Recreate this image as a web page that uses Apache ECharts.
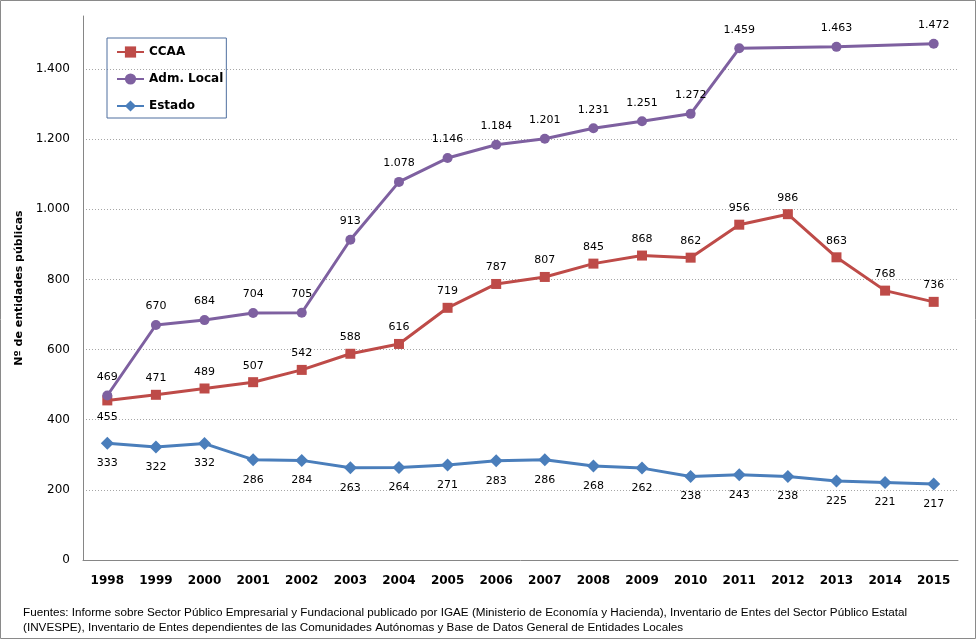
<!DOCTYPE html>
<html><head><meta charset="utf-8">
<script src="https://cdn.jsdelivr.net/npm/echarts@6/dist/echarts.min.js"></script>
<style>html,body{margin:0;padding:0;background:#fff}#c{width:976px;height:639px}</style>
</head><body><div id="c"></div>
<script>
const years = ['1998','1999','2000','2001','2002','2003','2004','2005','2006','2007','2008','2009','2010','2011','2012','2013','2014','2015'];
const ccaa = [455,471,489,507,542,588,616,719,787,807,845,868,862,956,986,863,768,736];
const admLocal = [469,670,684,704,705,913,1078,1146,1184,1201,1231,1251,1272,1459,null,1463,null,1472];
const estado = [333,322,332,286,284,263,264,271,283,286,268,262,238,243,238,225,221,217];
const yTicks = [200,400,600,800,1000,1200,1400];
const footnote = ['Fuentes: Informe sobre Sector Público Empresarial y Fundacional publicado por IGAE (Ministerio de Economía y Hacienda), Inventario de Entes del Sector Público Estatal',
'(INVESPE), Inventario de Entes dependientes de las Comunidades Autónomas y Base de Datos General de Entidades Locales'];

const fmt = v => { const n = typeof v === 'object' ? v.value : v; return String(n).replace(/\B(?=(\d{3})+(?!\d))/g, '.'); };
const F = 'DejaVu Sans';
const lblStyle = { show: true, fontFamily: F, fontSize: 11, color: '#000', formatter: p => fmt(p.value) };

const chart = echarts.init(document.getElementById('c'), null, { renderer: 'canvas' });
chart.setOption({
  animation: false,
  backgroundColor: '#fff',
  grid: { left: 83, right: 18, top: 16, bottom: 79, containLabel: false },
  legend: {
    orient: 'vertical', left: 107, top: 38, padding: [8, 3, 6, 9], itemGap: 15,
    itemWidth: 27, itemHeight: 14, borderColor: '#4f6f9f', borderWidth: 1,
    textStyle: { fontFamily: F, fontSize: 12, fontWeight: 'bold', color: '#000' },
    data: ['CCAA', 'Adm. Local', 'Estado']
  },
  xAxis: {
    type: 'category', data: years, boundaryGap: true,
    axisLine: { lineStyle: { color: '#868686', width: 1 } },
    axisTick: { show: false },
    axisLabel: { fontFamily: F, fontSize: 12, fontWeight: 'bold', color: '#000', margin: 15 }
  },
  yAxis: {
    type: 'value', min: 0, max: 1551, interval: 200,
    name: 'Nº de entidades públicas', nameLocation: 'middle', nameGap: 56,
    nameTextStyle: { fontFamily: F, fontSize: 11, fontWeight: 'bold', color: '#000' },
    axisLine: { show: true, lineStyle: { color: '#868686', width: 1 } },
    axisTick: { show: false },
    splitLine: { show: false },
    axisLabel: { fontFamily: F, fontSize: 12, color: '#000', margin: 13, showMaxLabel: false, formatter: v => fmt(v) }
  },
  graphic: [
    { type: 'rect', shape: { x: 0.5, y: 0.5, width: 975, height: 638 }, style: { fill: 'none', stroke: '#8a8a8a', lineWidth: 1 }, silent: true, z: 100 },
    { type: 'text', left: 23, top: 605, style: { text: footnote.join('\n'), font: '11.7px "Liberation Sans"', fill: '#000', lineHeight: 15 } }
  ],
  series: [
    {
      name: 'Estado', type: 'line', data: estado, z: 2,
      symbol: 'diamond', symbolSize: 13,
      lineStyle: { color: '#4a7ebb', width: 3 }, itemStyle: { color: '#4a7ebb' },
      label: Object.assign({}, lblStyle, { position: 'bottom', distance: 8 }),
      markLine: {
        silent: true, symbol: 'none', label: { show: false },
        lineStyle: { color: '#a6a6a6', width: 1, type: [1, 2] },
        data: yTicks.map(v => ({ yAxis: v })), z: 0
      }
    },
    {
      name: 'CCAA', type: 'line', z: 3,
      data: ccaa.map((v, i) => i === 0 ? { value: v, label: { position: 'bottom' } } : v),
      symbol: 'rect', symbolSize: 10,
      lineStyle: { color: '#be4b48', width: 3 }, itemStyle: { color: '#be4b48' },
      label: Object.assign({}, lblStyle, { position: 'top', distance: 6 })
    },
    {
      name: 'Adm. Local', type: 'line', z: 4, connectNulls: true,
      data: admLocal,
      symbol: 'circle', symbolSize: 10,
      lineStyle: { color: '#7e60a0', width: 3 }, itemStyle: { color: '#7e60a0' },
      label: Object.assign({}, lblStyle, { position: 'top', distance: 8 })
    }
  ]
});
</script></body></html>
